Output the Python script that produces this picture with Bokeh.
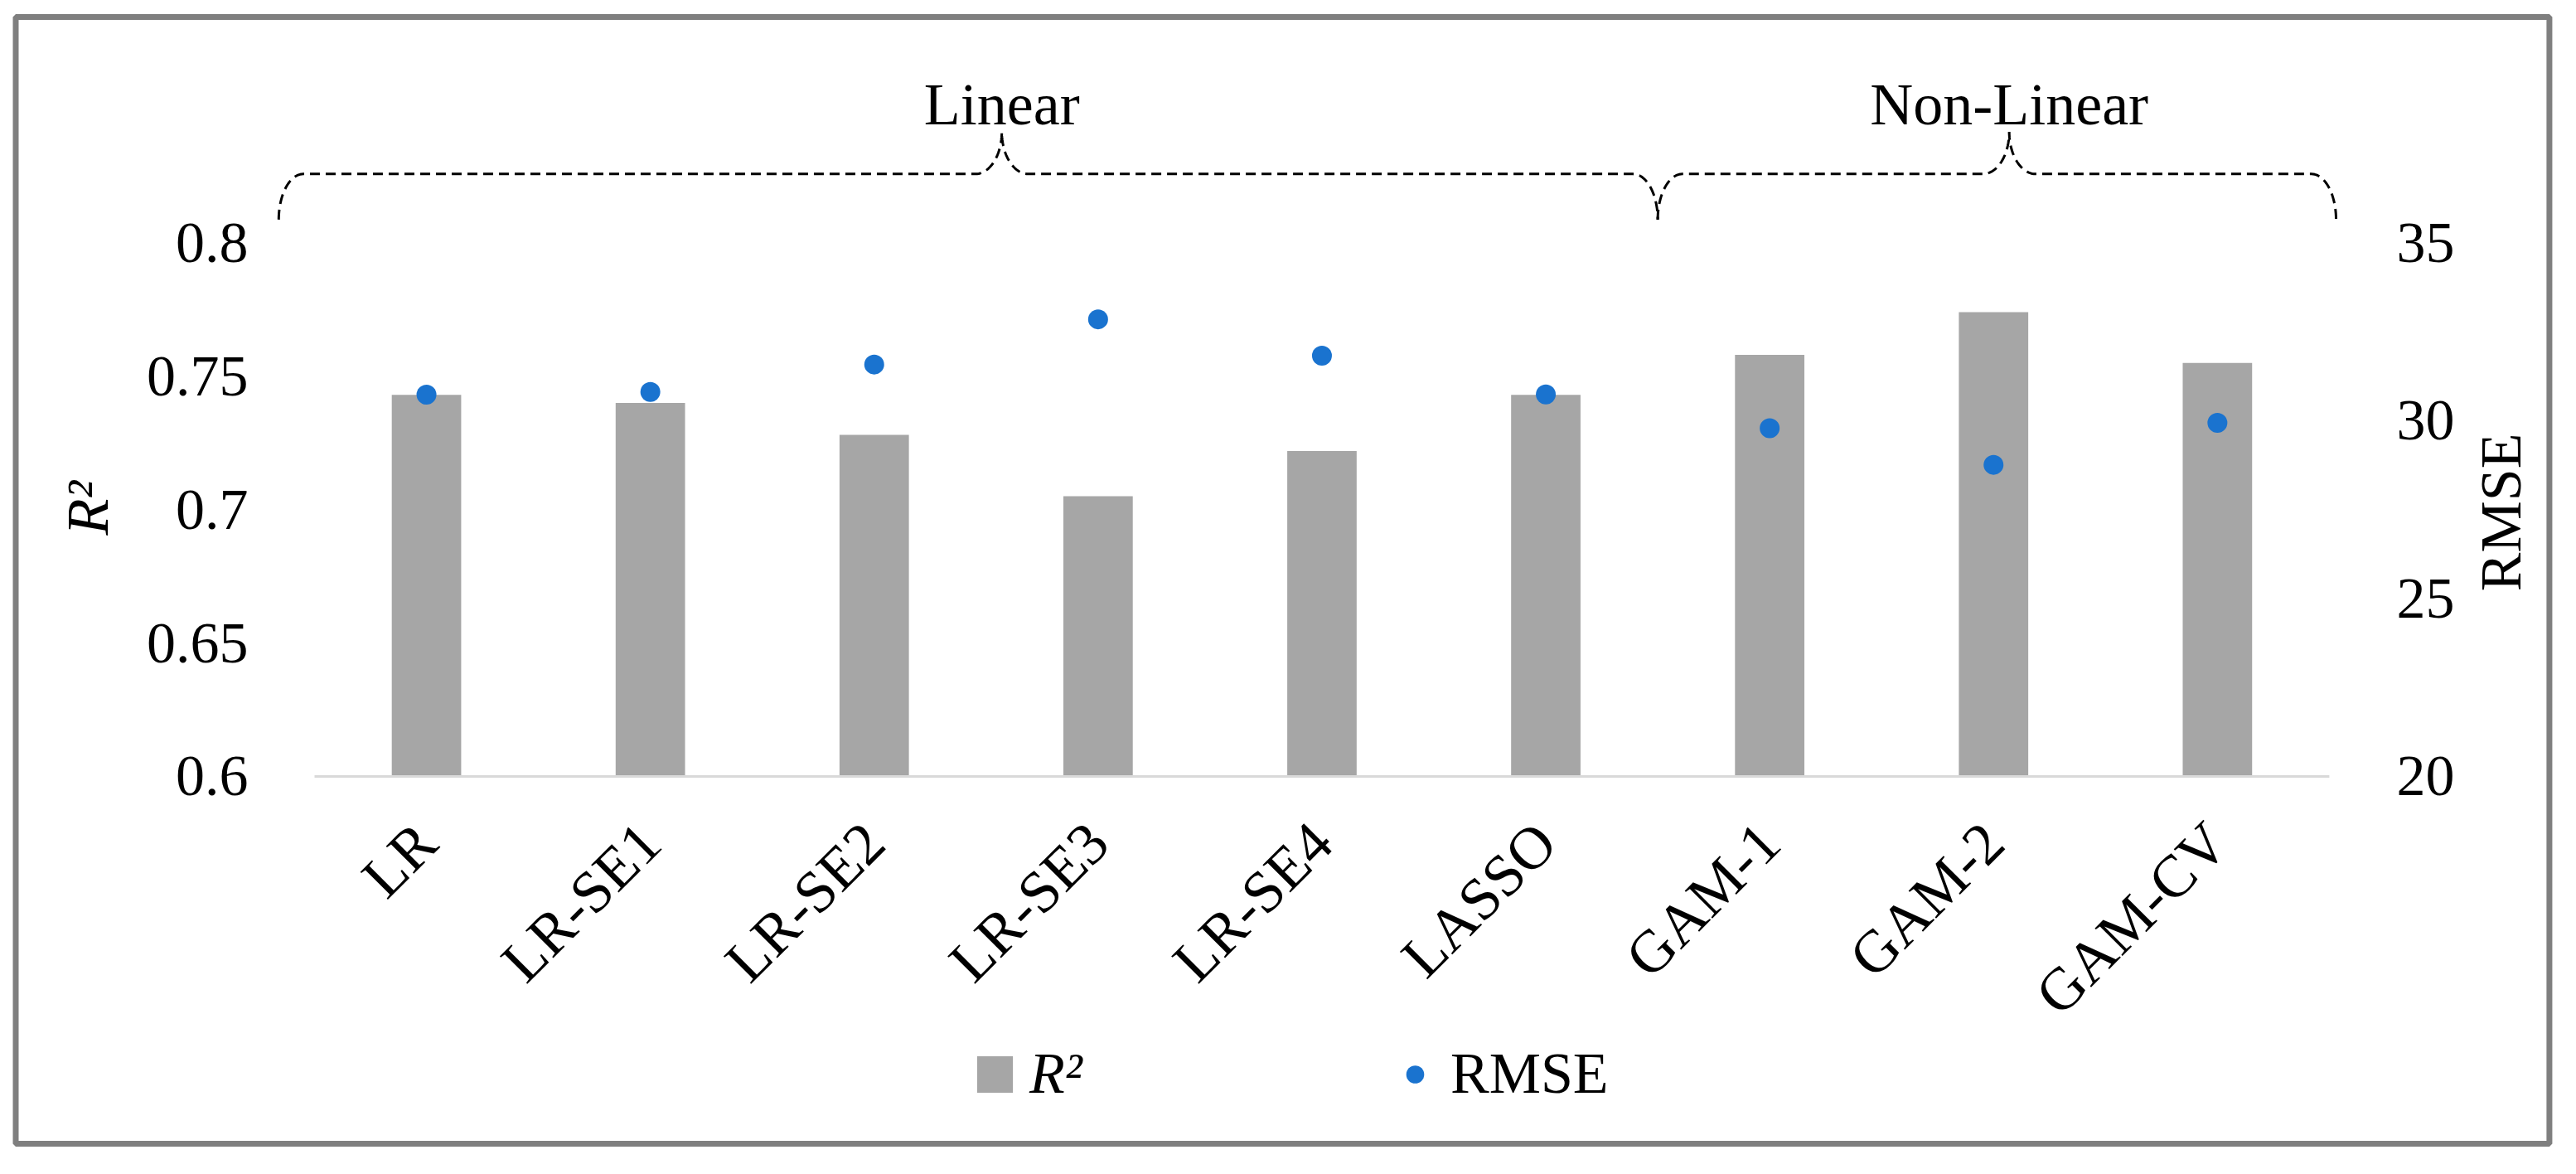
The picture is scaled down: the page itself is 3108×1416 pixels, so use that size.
import math
from bokeh.plotting import figure
from bokeh.models import (Range1d, LinearAxis, FixedTicker, Legend, LegendItem,
                          ColumnDataSource)
from bokeh.embed import file_html
from bokeh.resources import INLINE
from bokeh.core.properties import value

# ---------------- data ----------------
models = ["LR", "LR-SE1", "LR-SE2", "LR-SE3", "LR-SE4", "LASSO", "GAM-1", "GAM-2", "GAM-CV"]
r2 = [0.743, 0.740, 0.728, 0.705, 0.722, 0.743, 0.758, 0.774, 0.755]
rmse = [30.73, 30.81, 31.58, 32.85, 31.83, 30.74, 29.79, 28.76, 29.94]
r2_ticks = [0.6, 0.65, 0.7, 0.75, 0.8]
r2_tick_labels = ["0.6", "0.65", "0.7", "0.75", "0.8"]
rmse_ticks = [20, 25, 30, 35]
groups = ["Linear", "Non-Linear"]
group_first = [0, 6]     # index of first model in group
group_last = [5, 8]      # index of last model in group
axis_titles = ["R²", "RMSE"]

# ---------------- styling ----------------
FONT = "Liberation Serif"
BAR = "#a6a6a6"
DOT = "#1a73cf"
FRAME = "#7f7f7f"

W, H = 3092, 1400
# the data frame covers the whole canvas; axes are drawn at fixed locations
x_lo, x_hi = -1.4032, 10.0444
y_lo, y_hi = 0.45581, 0.89086
base = 0.6
rm_lo = 20.0 + (y_lo - base) * 75.0
rm_hi = 20.0 + (y_hi - base) * 75.0

p = figure(width=W, height=H, output_backend="svg", toolbar_location=None,
           x_range=Range1d(x_lo, x_hi), y_range=Range1d(y_lo, y_hi),
           min_border_left=0, min_border_right=0, min_border_top=0, min_border_bottom=0)
p.extra_y_ranges = {"rmse": Range1d(rm_lo, rm_hi)}
p.xgrid.visible = False
p.ygrid.visible = False
p.outline_line_color = None
p.background_fill_color = "white"
p.border_fill_color = "white"

xc = [i + 0.5 for i in range(len(models))]
src = ColumnDataSource(dict(x=xc, r2=r2, rmse=rmse, name=models))

bars = p.vbar(x="x", top="r2", bottom=base, width=0.31, source=src,
              fill_color=BAR, line_color=None)
dots = p.scatter(x="x", y="rmse", y_range_name="rmse", source=src, size=24,
                 marker="circle", fill_color=DOT, line_color=None)

# baseline at R2 = 0.6
p.segment(x0=[0], y0=[base], x1=[len(models)], y1=[base], line_color="#d9d9d9", line_width=3)

# x axis
xa = p.xaxis[0]
xa.fixed_location = base
xa.ticker = FixedTicker(ticks=xc)
xa.major_label_overrides = {x: m for x, m in zip(xc, models)}
xa.major_label_orientation = math.pi / 4
xa.axis_line_color = None
xa.major_tick_line_color = None
xa.minor_tick_line_color = None
xa.major_label_standoff = 62
xa.major_label_text_font = FONT
xa.major_label_text_font_size = "72px"
xa.major_label_text_color = "black"

# left axis
ya = p.yaxis[0]
ya.fixed_location = -0.211
ya.ticker = FixedTicker(ticks=r2_ticks)
ya.major_label_overrides = {t: s for t, s in zip(r2_ticks, r2_tick_labels)}
ya.axis_line_color = None
ya.major_tick_line_color = None
ya.minor_tick_line_color = None
ya.major_label_standoff = 17
ya.major_label_text_font = FONT
ya.major_label_text_font_size = "70px"
ya.major_label_text_color = "black"

# right axis
ra = LinearAxis(y_range_name="rmse", ticker=FixedTicker(ticks=rmse_ticks), fixed_location=9.063)
ra.axis_line_color = None
ra.major_tick_line_color = None
ra.minor_tick_line_color = None
ra.major_label_standoff = 58
ra.major_label_text_font = FONT
ra.major_label_text_font_size = "70px"
ra.major_label_text_color = "black"
p.add_layout(ra, "right")

# axis titles
p.text(x=[-1.0144], y=[0.7006], text=[axis_titles[0]], angle=math.pi / 2,
       text_align="center", text_baseline="middle", text_font=value(FONT),
       text_font_size="72px", text_font_style="italic", text_color="black")
p.text(x=[9.767], y=[0.699], text=[axis_titles[1]], angle=math.pi / 2,
       text_align="center", text_baseline="middle", text_font=value(FONT),
       text_font_size="70px", text_color="black")

# group braces
y_h, y_e, y_t = 0.8258, 0.8087, 0.8416
cdx, tdx = 0.11, 0.118
brace_xs, brace_ys, tips = [], [], []
n = 24
for gi, (a, b) in enumerate(zip(group_first, group_last)):
    x0 = a - (0.16 if gi == 0 else 0.0)
    x1 = b + 1 + (0.03 if gi == len(groups) - 1 else 0.0)
    xt = (a + b + 1) / 2 + 0.07
    tips.append(xt)
    xs, ys = [], []
    for k in range(n + 1):
        t = k / n * math.pi / 2
        xs.append(x0 + cdx - cdx * math.cos(t)); ys.append(y_e + (y_h - y_e) * math.sin(t))
    for k in range(n + 1):
        t = k / n * math.pi / 2
        xs.append(xt - tdx + tdx * math.sin(t)); ys.append(y_t - (y_t - y_h) * math.cos(t))
    for k in range(n + 1):
        t = k / n * math.pi / 2
        xs.append(xt + tdx - tdx * math.cos(t)); ys.append(y_t - (y_t - y_h) * math.sin(t))
    for k in range(n + 1):
        t = k / n * math.pi / 2
        xs.append(x1 - cdx + cdx * math.sin(t)); ys.append(y_h - (y_h - y_e) * (1 - math.cos(t)))
    brace_xs.append(xs); brace_ys.append(ys)

p.multi_line(xs=brace_xs, ys=brace_ys, line_color="black", line_width=3, line_dash="12 7")
p.text(x=tips, y=[0.8519] * len(groups), text=groups, text_align="center",
       text_baseline="alphabetic", text_font=value(FONT), text_font_size="72px",
       text_color="black")

# legends
leg_common = dict(orientation="horizontal", glyph_width=54, glyph_height=55,
                  label_text_font=FONT, label_text_font_size="70px", label_text_color="black",
                  border_line_color=None, background_fill_alpha=0, padding=0, margin=0,
                  spacing=0)
leg1 = Legend(items=[LegendItem(label="R²", renderers=[bars])], location=(1173, 65),
              label_standoff=15, label_text_font_style="italic", **leg_common)
leg2 = Legend(items=[LegendItem(label="RMSE", renderers=[dots])], location=(1680, 65),
              label_standoff=16, **leg_common)
p.add_layout(leg1)
p.add_layout(leg2)

# outer frame
p.quad(left=[-1.3347], right=[9.983], top=[0.88468], bottom=[0.46237], fill_color=None,
       line_color=FRAME, line_width=7)

open("out.html", "w").write(file_html(p, INLINE))
